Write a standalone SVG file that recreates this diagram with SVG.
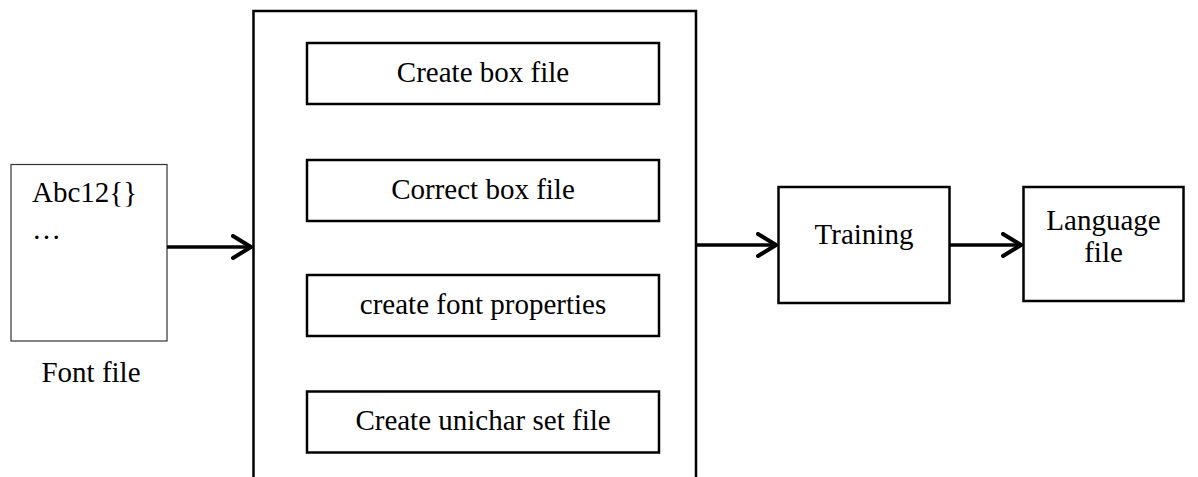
<svg xmlns="http://www.w3.org/2000/svg" width="1198" height="477" viewBox="0 0 1198 477">
<defs>
<style>
text{font-family:"Liberation Serif","Times New Roman",serif;font-size:29px;fill:#000}
.c{text-anchor:middle}
.box{fill:#fff;stroke:#000;stroke-width:2.5}
.thin{fill:#fff;stroke:#333;stroke-width:1.2}
.conn{stroke:#000;stroke-width:3.5;fill:none}
</style>
<marker id="arr" markerUnits="userSpaceOnUse" markerWidth="24" markerHeight="30" refX="20" refY="13" orient="auto" viewBox="0 0 24 30">
<path d="M2 2 L20 13 L2 24" fill="none" stroke="#000" stroke-width="4" stroke-linecap="round" stroke-linejoin="round"/>
</marker>
</defs>
<rect width="1198" height="477" fill="#fff"/>
<g id="font-file">
<rect class="thin" x="11" y="164.5" width="156" height="176.5"/>
<text x="32" y="201.5">Abc12{}</text>
<text x="32" y="239">…</text>
<text class="c" x="91" y="381.5">Font file</text>
</g>
<g id="process">
<path class="box" d="M253.5 477 V11 H696 V477" fill="none"/>
</g>
<g id="create-box">
<rect class="box" x="307" y="43" width="352" height="61"/>
<text class="c" x="483" y="81.5">Create box file</text>
</g>
<g id="correct-box">
<rect class="box" x="307" y="160" width="352" height="61"/>
<text class="c" x="483" y="198.5">Correct box file</text>
</g>
<g id="font-props">
<rect class="box" x="307" y="275" width="352" height="61"/>
<text class="c" x="483" y="313.5">create font properties</text>
</g>
<g id="unichar">
<rect class="box" x="307" y="391.5" width="352" height="61"/>
<text class="c" x="483" y="430">Create unichar set file</text>
</g>
<g id="training">
<rect class="box" x="778.5" y="187" width="171" height="116"/>
<text class="c" x="864" y="243.5">Training</text>
</g>
<g id="language">
<rect class="box" x="1023.5" y="187" width="160" height="114"/>
<text class="c" x="1103.5" y="230">Language</text>
<text class="c" x="1103.5" y="262">file</text>
</g>
<g id="connectors">
<line class="conn" x1="167" y1="247" x2="251" y2="247" marker-end="url(#arr)"/>
<line class="conn" x1="696" y1="245" x2="776" y2="245" marker-end="url(#arr)"/>
<line class="conn" x1="949.5" y1="245" x2="1021" y2="245" marker-end="url(#arr)"/>
</g>
</svg>
